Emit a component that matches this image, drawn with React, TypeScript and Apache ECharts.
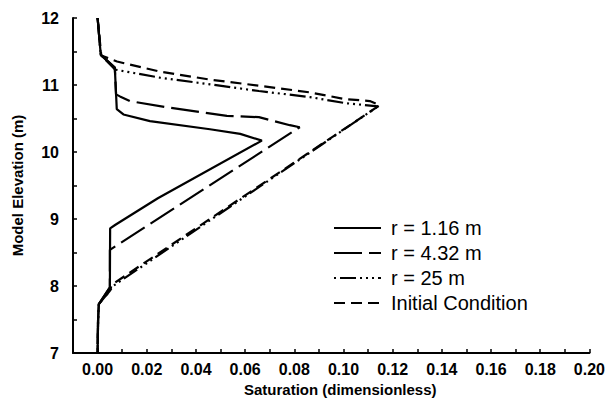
import React, { useEffect, useRef } from "react";
import * as echarts from "echarts";

const FONT = "'Liberation Sans', Arial, Helvetica, sans-serif";

const seriesNames = ["r = 1.16 m", "r = 4.32 m", "r = 25 m", "Initial Condition"];

// Saturation (x) and Model Elevation (y) for each profile, top to bottom
const r116Sat = [0.0, 0.0013, 0.007, 0.0078, 0.0105, 0.0213, 0.0457, 0.058, 0.0668, 0.0245, 0.0071, 0.0051, 0.005, 0.0005, 0.0002, 0.0];
const r116Elev = [12, 11.45, 11.26, 10.64, 10.56, 10.46, 10.34, 10.27, 10.17, 9.31, 8.91, 8.86, 7.98, 7.73, 7.5, 7];

const r432Sat = [0.0, 0.0013, 0.007, 0.0075, 0.0091, 0.0131, 0.0294, 0.0526, 0.0656, 0.0782, 0.0822, 0.005, 0.005, 0.0005, 0.0002, 0.0];
const r432Elev = [12, 11.45, 11.26, 10.86, 10.83, 10.76, 10.66, 10.54, 10.52, 10.4, 10.37, 8.54, 7.98, 7.73, 7.5, 7];

const r25Sat = [0.0, 0.0013, 0.0071, 0.0253, 0.0457, 0.0656, 0.0863, 0.1006, 0.114, 0.0063, 0.005, 0.0005, 0.0002, 0.0];
const r25Elev = [12, 11.45, 11.23, 11.11, 11.01, 10.91, 10.82, 10.73, 10.68, 8.0, 7.93, 7.73, 7.5, 7];

const icSat = [0.0, 0.0015, 0.0079, 0.0253, 0.0457, 0.0656, 0.0863, 0.1006, 0.1107, 0.1148, 0.0058, 0.005, 0.0005, 0.0002, 0.0];
const icElev = [12, 11.44, 11.35, 11.2, 11.08, 10.99, 10.89, 10.79, 10.76, 10.7, 8.02, 7.93, 7.73, 7.5, 7];

const lineDashes: (number[] | "solid")[] = ["solid", [28, 7], [2, 4, 16, 4, 2, 4, 2, 4], [11, 6]];

const zip = (xs: number[], ys: number[]) => xs.map((x, i) => [x, ys[i]]);

export default function App() {
  const ref = useRef<HTMLDivElement>(null);
  useEffect(() => {
    if (!ref.current) return;
    const chart = echarts.init(ref.current, undefined, { renderer: "svg" });
    const dataSets = [
      zip(r116Sat, r116Elev),
      zip(r432Sat, r432Elev),
      zip(r25Sat, r25Elev),
      zip(icSat, icElev),
    ];
    chart.setOption({
      animation: false,
      backgroundColor: "#fff",
      textStyle: { fontFamily: FONT, color: "#000" },
      grid: { left: 73, right: 18, top: 18, bottom: 46, containLabel: false },
      legend: {
        orient: "vertical",
        left: 333,
        top: 218,
        padding: 0,
        itemWidth: 47,
        itemHeight: 14,
        itemGap: 5,
        data: seriesNames,
        itemStyle: { opacity: 0 },
        textStyle: { fontFamily: FONT, fontSize: 20, color: "#000", lineHeight: 20, padding: [0, 0, 0, 5] },
      },
      xAxis: {
        type: "value",
        min: -0.01,
        max: 0.2,
        interval: 0.01,
        name: "Saturation (dimensionless)",
        nameLocation: "middle",
        nameGap: 29,
        nameTextStyle: { fontFamily: FONT, fontSize: 15, fontWeight: "bold", color: "#000", padding: [0, 0, 0, 18] },
        axisLine: { show: true, onZero: false, lineStyle: { color: "#000", width: 2 } },
        axisTick: { show: true, inside: true, length: 4, lineStyle: { color: "#000", width: 1.5 } },
        splitLine: { show: false },
        axisLabel: {
          margin: 8,
          fontFamily: FONT,
          fontSize: 16,
          fontWeight: "bold",
          color: "#000",
          showMinLabel: true,
          showMaxLabel: true,
          formatter: (v: number) => {
            const k = Math.round(v * 100);
            if (k < 0 || k % 2 !== 0) return "";
            return (k / 100).toFixed(2);
          },
        },
      },
      yAxis: {
        type: "value",
        min: 7,
        max: 12,
        interval: 0.5,
        name: "Model Elevation (m)",
        nameLocation: "middle",
        nameGap: 48,
        nameRotate: 90,
        nameTextStyle: { fontFamily: FONT, fontSize: 15, fontWeight: "bold", color: "#000" },
        axisLine: { show: true, onZero: false, lineStyle: { color: "#000", width: 2 } },
        axisTick: { show: true, inside: true, length: 4, lineStyle: { color: "#000", width: 1.5 } },
        splitLine: { show: false },
        axisLabel: {
          margin: 14,
          fontFamily: FONT,
          fontSize: 16,
          fontWeight: "bold",
          color: "#000",
          formatter: (v: number) => (Math.abs(v - Math.round(v)) < 1e-6 ? String(Math.round(v)) : ""),
        },
      },
      series: seriesNames.map((name, i) => ({
        name,
        type: "line",
        data: dataSets[i],
        showSymbol: false,
        symbol: "none",
        clip: false,
        lineStyle: { color: "#000", width: 2.2, type: lineDashes[i] },
        itemStyle: { color: "#000" },
        z: 4 - i,
      })),
    });
    return () => chart.dispose();
  }, []);
  return (
    <div
      ref={ref}
      style={{ position: "fixed", left: 0, top: 0, width: 608, height: 402, background: "#fff" }}
    />
  );
}
